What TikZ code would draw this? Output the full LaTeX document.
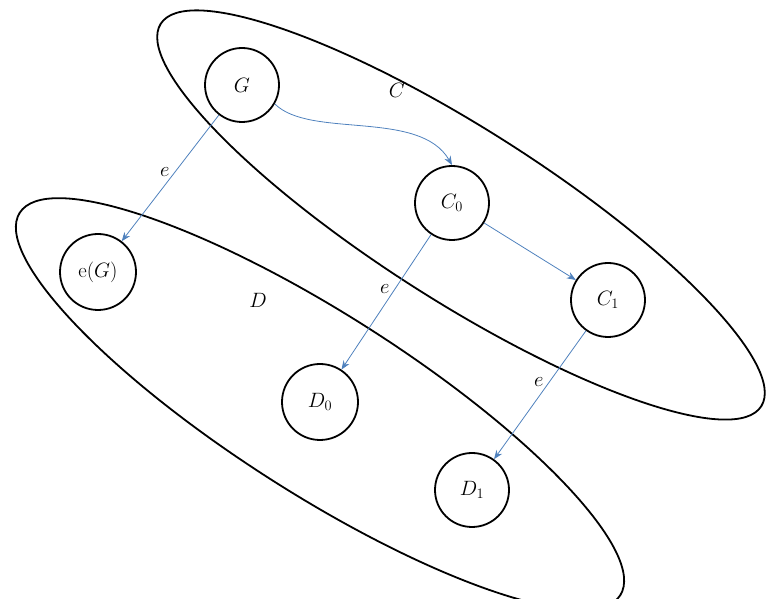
\documentclass[tikz,border=0pt]{standalone}
\usetikzlibrary{arrows.meta}
\begin{document}
\begin{tikzpicture}[x=1pt,y=1pt,
  st/.style={circle,draw,line width=1.8pt,minimum size=74pt,inner sep=0pt,font=\huge},
  ar/.style={draw={rgb,255:red,79;green,129;blue,189},line width=0.8pt,-{Stealth[length=9pt,width=7pt]}},
  lb/.style={font=\huge}]
\useasboundingbox (0,0) rectangle (780,599);
\draw[line width=1.8pt,rotate around={-32.5:(461,384)}] (461,384) ellipse (356 and 86);
\draw[line width=1.8pt,rotate around={-32.5:(320,195)}] (320,195) ellipse (356 and 90);
\node[st] (G) at (242,514) {$G$};
\node[st] (C0) at (452,396) {$C_0$};
\node[st] (C1) at (608,299) {$C_1$};
\node[st,minimum size=76pt] (eG) at (98,327) {e$(G)$};
\node[st,minimum size=76pt] (D0) at (320,197) {$D_0$};
\node[st] (D1) at (472,109) {$D_1$};
\node[lb] (lC) at (397,509) {$C$};
\node[lb] (lD) at (258,299) {$D$};
\draw[ar] (G) -- node[lb,pos=0.45,left,xshift=-2pt] {$e$} (eG);
\draw[ar] (G.-30) .. controls (310,460) and (420,490) .. (C0.north);
\draw[ar] (C0) -- (C1);
\draw[ar] (C0) -- node[lb,pos=0.4,left,xshift=-2pt] {$e$} (D0);
\draw[ar] (C1) -- node[lb,pos=0.4,left,xshift=-2pt] {$e$} (D1);
\end{tikzpicture}
\end{document}
